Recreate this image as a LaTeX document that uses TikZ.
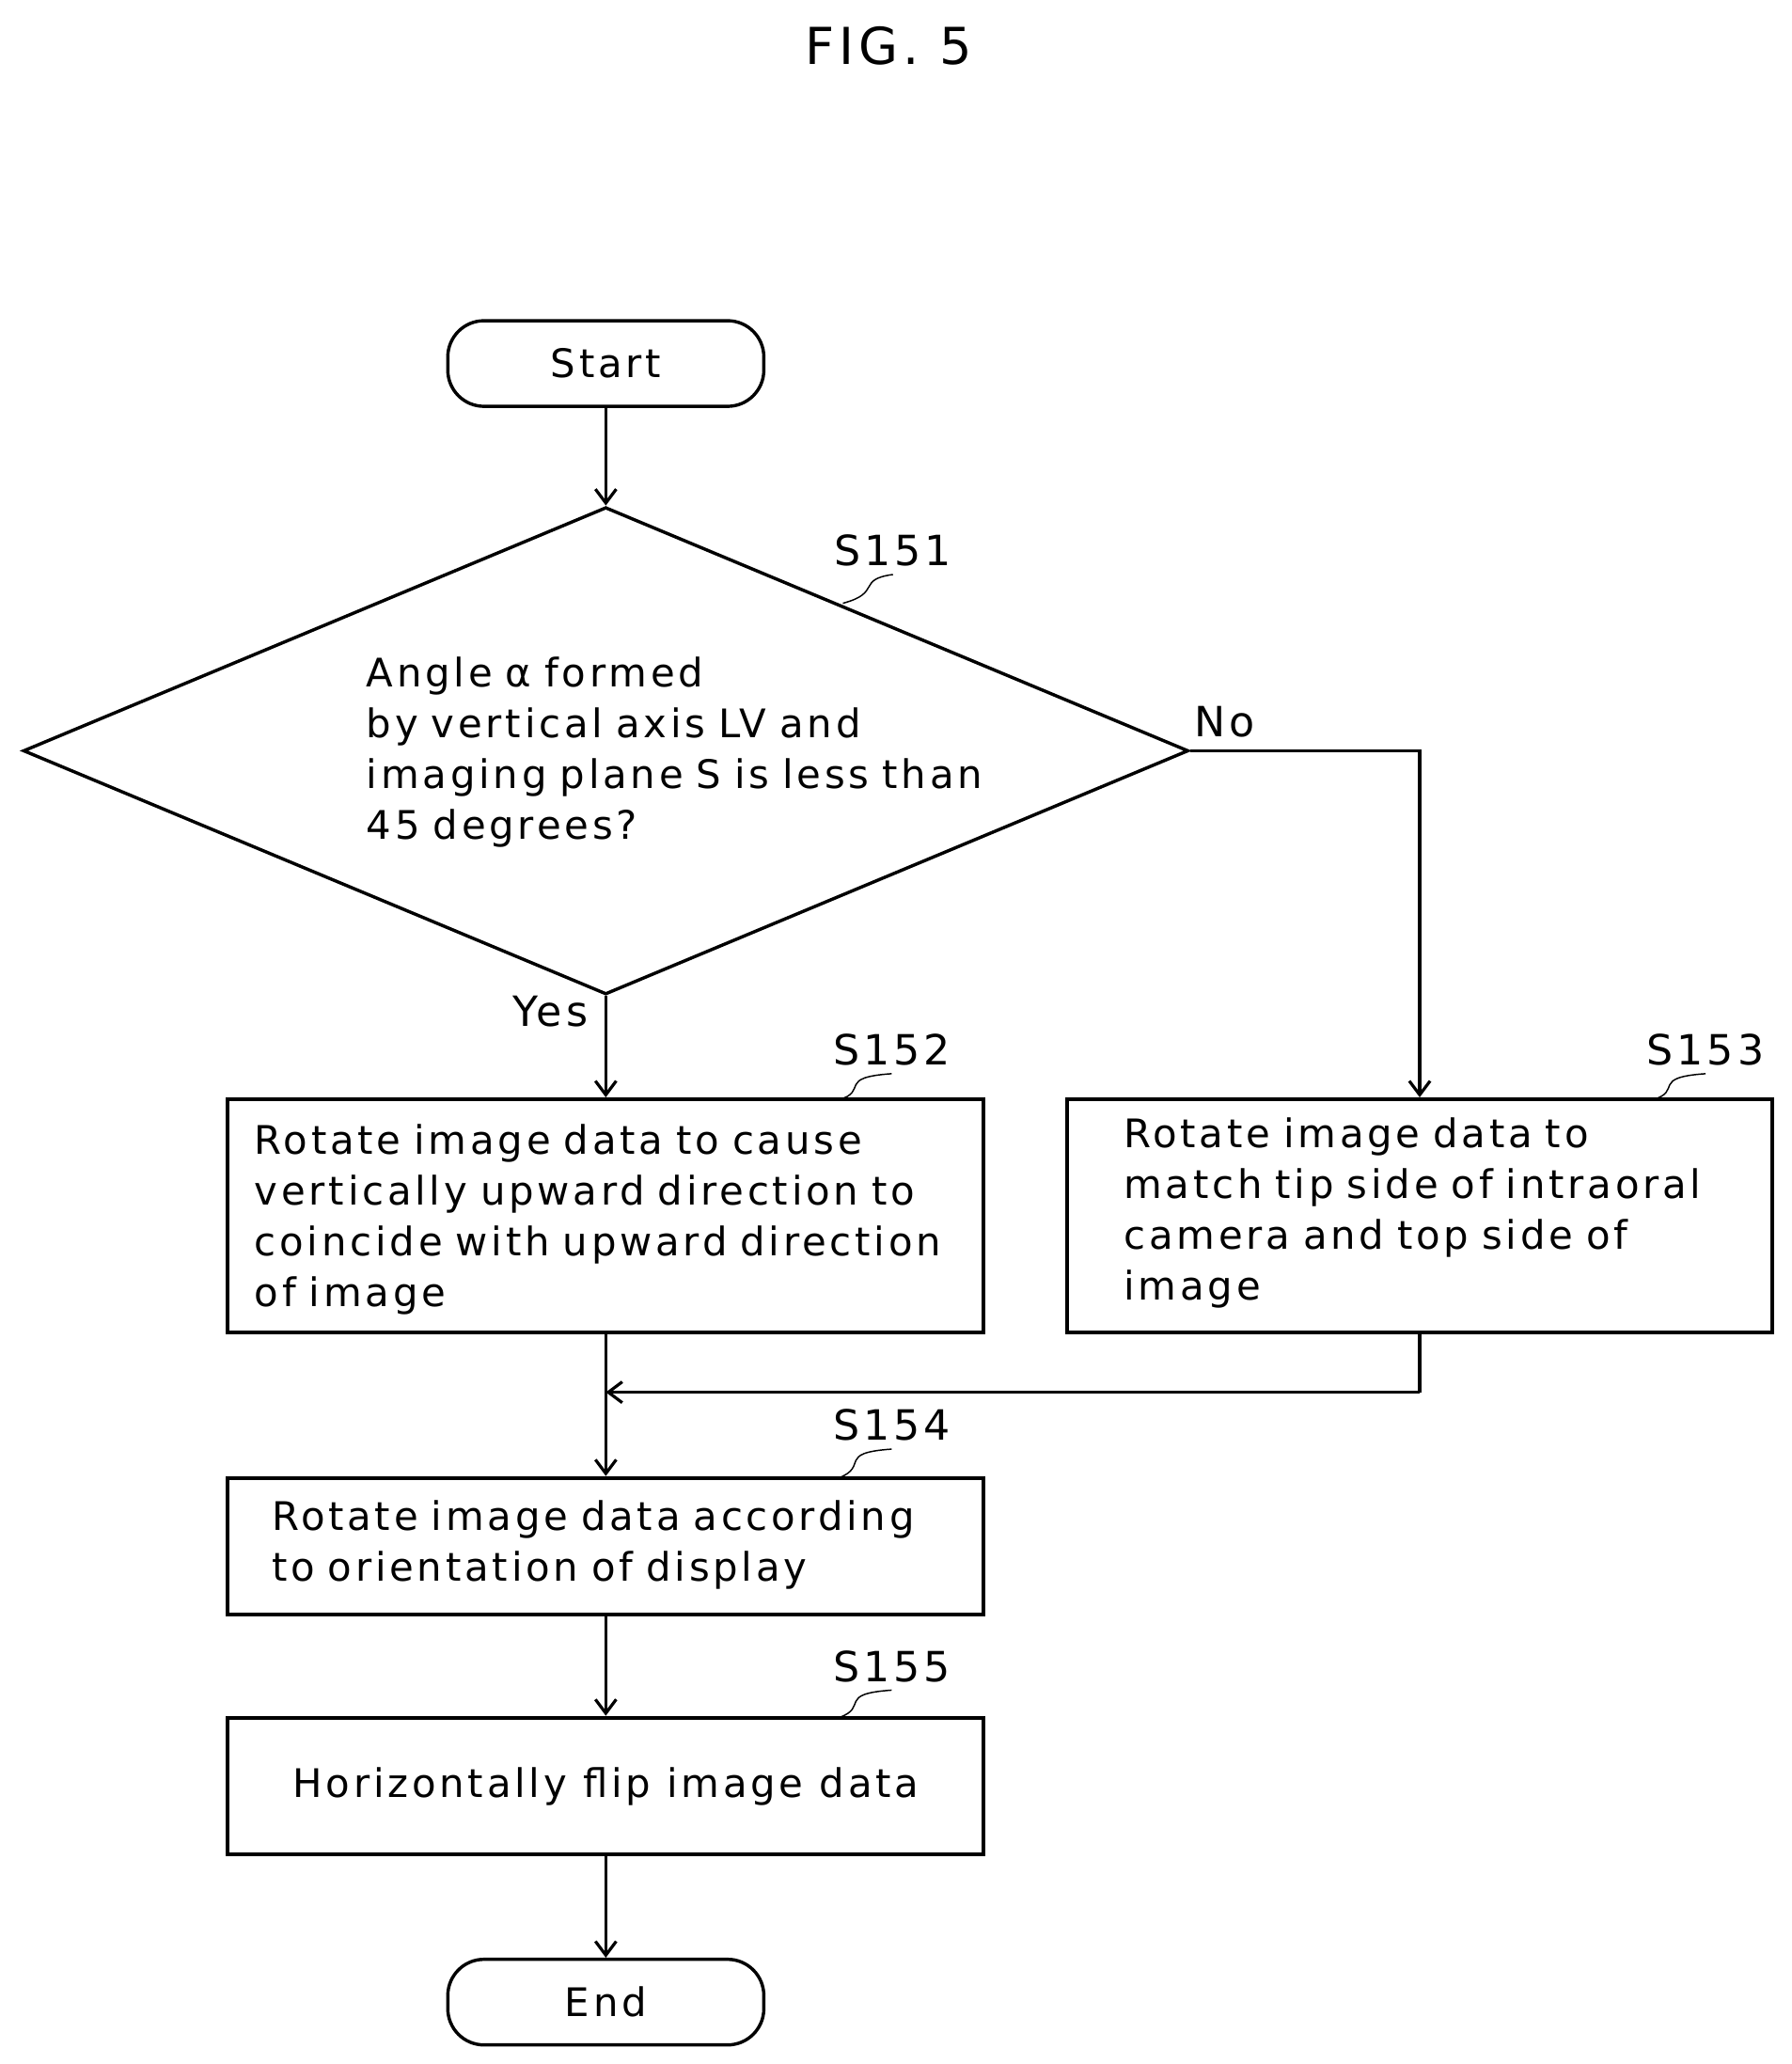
\documentclass[tikz,border=0pt]{standalone}
\usepackage{fontspec}
\setmainfont[LetterSpace=9]{DejaVu Sans}
\usetikzlibrary{shapes.geometric,arrows.meta}
\begin{document}
\begin{tikzpicture}[x=0.02cm,y=-0.02cm,
  every node/.style={font=\fontsize{17}{22}\selectfont},
  txt/.style={align=left,anchor=west,inner sep=0pt,text width=12cm},
  box/.style={draw,line width=1.6pt,minimum width=11.48cm,inner sep=0pt},
  term/.style={draw,line width=1.4pt,rounded corners=0.55cm,minimum width=4.8cm,minimum height=1.3cm},
  line/.style={line width=1.3pt},
  arr/.style={line,-{Straight Barb[length=6pt,width=9pt]}},
  lbl/.style={font=\fontsize{18}{22}\selectfont},
  sq/.style={line width=0.6pt}]
\useasboundingbox (0,0) rectangle (1360,1567);
\node[font=\fontsize{22}{26}\selectfont] (title) at (675,35) {FIG. 5};
\node[term] (start) at (460,276) {Start};
\node[draw,line width=1.4pt,diamond,minimum width=17.7cm,minimum height=7.4cm,inner sep=0pt] (dec) at (460,570) {};
\node[txt] (dect) at (278,571) {Angle α formed\\by vertical axis LV and\\imaging plane S is less than\\45 degrees?};
\node[box,minimum height=3.54cm] (s152) at (460,923) {};
\node[txt] (t152) at (193,926) {Rotate image data to cause\\vertically upward direction to\\coincide with upward direction\\of image};
\node[box,minimum width=10.72cm,minimum height=3.54cm] (s153) at (1078,923) {};
\node[txt] (t153) at (853,921) {Rotate image data to\\match tip side of intraoral\\camera and top side of\\image};
\node[box,minimum height=2.08cm] (s154) at (460,1174) {};
\node[txt] (t154) at (206,1173) {Rotate image data according\\to orientation of display};
\node[box,minimum height=2.08cm] (s155) at (460,1356) {Horizontally flip image data};
\node[term] (end) at (460,1520) {End};
\node[lbl] (l151) at (678,418) {S151};
\node[lbl] (l152) at (677,797) {S152};
\node[lbl] (l153) at (1295,797) {S153};
\node[lbl] (l154) at (677,1082) {S154};
\node[lbl] (l155) at (677,1265) {S155};
\node[lbl] (no) at (930,548) {No};
\node[lbl] (yes) at (418,768) {Yes};
\coordinate (c2) at (460,1057);
\coordinate (c1) at (s153.south |- c2);
\draw[arr] (start) -- (dec.north);
\draw[arr] (dec.south) -- (s152.north);
\draw[arr] (dec.east) -| (s153.north);
\draw[arr] (s152.south) -- (s154.north);
\draw[line] (s153.south) -- (c1);
\draw[arr] (c1) -- (c2);
\draw[arr] (s154.south) -- (s155.north);
\draw[arr] (s155.south) -- (end.north);
\draw[sq] (l151.south) .. controls (650,440) and (670,450) .. (640,458);
\draw[sq] (l152.south) .. controls (635,818) and (660,828) .. (637,835);
\draw[sq] (l153.south) .. controls (1253,818) and (1278,828) .. (1255,835);
\draw[sq] (l154.south) .. controls (635,1103) and (660,1113) .. (637,1122);
\draw[sq] (l155.south) .. controls (635,1286) and (660,1296) .. (637,1304);
\end{tikzpicture}
\end{document}
